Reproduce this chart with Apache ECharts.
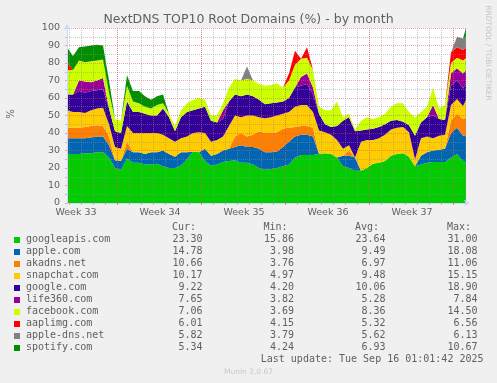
<!DOCTYPE html>
<html><head><meta charset="utf-8">
<script src="https://cdn.jsdelivr.net/npm/echarts@6/dist/echarts.min.js"></script>
<style>html,body{margin:0;padding:0;background:#f0f0f0;}#c{width:497px;height:383px;}</style>
</head><body><div id="c"></div>
<script>
// sample times: hours since Mon 11 Aug 2025 00:00 (week 33)
const hours = [67,79,91,103,115,127,139,151,163,175,187,199,211,223,235,247,259,271,283,295,307,319,331,343,355,367,379,391,403,415,427,439,451,463,475,487,499,511,523,535,547,559,571,583,595,607,619,631,643,655,667,679,691,703,715,727,739,751,763,775,787,799,811,823,835,847,859,865];

const googleapis = [28,28,28,28.5,28.5,29,29,26,20,19, 25.5,23,23,22,22,22.5,21,20,20,21.5, 25,29.5,29,24,21.5,22,23.5,24,24.5,23, 23,22,20,19,19.5,20,21,22,26,27.5, 27.5,27.5,28,28.5,28,26,21,20,18.5,18.5, 20,22.5,23,24,27,28,28.5,26.5,21,22, 23,23.5,23.5,23.5,26,28,24,23.3];
const appleCom = [9,9,9,8.5,9,9,9,7,4.5,5, 5.5,6,6,6,7,6.5,9,8,6.5,7.5, 4,0,0,7,5.5,6,6.5,7,7.5,10, 9,10,11,10,9.5,9.5,11,13,12,11.5, 11.5,10.5,0,0,0,0,6,7,7.5,0, 0,0,0,0,0,0,0,0,0,5, 6,6.5,7,7.5,14,15,14.5,14.78];
const akadns = [6,6,6,6.5,6.5,6.5,6,5,0,0, 4,0,0,0,0,0,0,0,0,0, 0,0,0,0,0,0,0,0,6,7, 6,7,10,11,11,11,10.5,8,5.5,5, 5,5,0,0,0,0,0,3,0,0, 0,0,0,0,0,0,0,0,0,0, 0,0,0,0,7,8,9.5,10.66];
const snapchat = [10,9,9,8,9,9.5,10.5,7,7.5,7, 9,11,11,12,11,11,9,9,8.5,8, 9,10.5,11.5,9,8,8,8,13,12,9, 12,11,8,8.5,9,9.5,8.5,9,11.5,12, 12,9,13.5,12,11,10,4,3,0,16.5, 16,13.5,14,15,15,15,15,14,4,10, 9,7,8,8,9,8.5,7.5,10.17];
const googleCom = [9,10,12,11.5,11,10.5,10.5,9,9,9, 14,12,12,11,10,10,15,12,6,12, 14,13,13.5,15,12,10,10,14,12,12, 12,11,10,8,8,7.5,7,8,11,11, 12,10,9.5,4.5,4.5,8,16,16,15,6.5, 6,6.5,6.5,6,5,4.5,3,4,13.5,9, 11,13,9.5,8.5,11,10.5,10,9.22];
const life360 = [0,0,6,6.5,5,5.5,6.5,0,0,0, 0,0,0,0,0,0,0,0,0,0, 0,0,0,0,0,0,5,0,0,0, 0,0,0,0,0,0,0,0,0,5, 6,4,0,0,0,0,0,0,0,0, 0,0,0,0,0,0,0,0,0,0, 0,6,0,0,7,7,8.5,7.65];
const facebook = [14,14,11.5,11,12,11.5,10.5,9,7,7, 9,6,5,4,4,6,3,2,3,4, 5,6,6,4,3,4,4,8,9,9, 9,9,9,10.5,10.5,11,8,10,13,10.5, 9,10,4,8,9.5,14,2,2,1,5.5, 7,5.5,5.5,6,8,9.5,10.5,7.5,10.5,6, 6,10,6,8.5,6,6,7.5,7.06];
const aaplimg = [4.5,0,0,0,0,0,0,0,0,0, 0,0,0,0,0,0,0,0,0,0, 0,0,0,0,0,0,0,0,0,0, 0,0,0,0,0,0,0,4,8,0, 6,0,0,0,0,0,0,0,0,0, 0,0,0,0,0,0,0,0,0,0, 0,0,0,0,6,6,6,6.01];
const appleDns = [0,0,0,0,0,0,0,0,0,0, 0,0,0,0,0,0,0,0,0,0, 0,0,0,0,0,0,0,0,0,0, 7,0,0,0,0,0,0,0,0,0, 0,0,0,0,0,0,0,0,0,0, 0,0,0,0,0,0,0,0,0,0, 0,0,0,0,0,6,6.5,5.82];
const spotify = [8.5,8,7.5,9,9,9,8,7,0,0, 6,6,7,6,5,5,5,0,0,0, 0,0,0,0,0,0,0,0,0,0, 0,0,0,0,0,0,0,0,0,0, 0,0,0,0,0,0,0,0,0,0, 0,0,0,0,0,0,0,0,0,0, 0,0,0,0,0,0,0,5.34];

const seriesNames = ['googleapis.com','apple.com','akadns.net','snapchat.com','google.com','life360.com','facebook.com','aaplimg.com','apple-dns.net','spotify.com'];
const seriesColors = ['#00cc00','#0066b3','#ff8000','#ffcc00','#330099','#990099','#ccff00','#ff0000','#808080','#008f00'];
const seriesValues = [googleapis, appleCom, akadns, snapchat, googleCom, life360, facebook, aaplimg, appleDns, spotify];

const curVals = ['23.30','14.78','10.66','10.17','9.22','7.65','7.06','6.01','5.82','5.34'];
const minVals = ['15.86','3.98','3.76','4.97','4.20','3.82','3.69','4.15','3.79','4.24'];
const avgVals = ['23.64','9.49','6.97','9.48','10.06','5.28','8.36','5.32','5.62','6.93'];
const maxVals = ['31.00','18.08','11.06','15.15','18.90','7.84','14.50','6.56','6.13','10.67'];

const weekLabelHours = [85,253,421,589,757];
const weekLabels = ['Week 33','Week 34','Week 35','Week 36','Week 37'];
const weekStartHours = [168,336,504,672,840];
const dayHours = [];
for (let h = 72; h <= 864; h += 24) dayHours.push(h);

const TXT = '#606060';
const GRIDC = 'rgba(143,143,143,0.5)';
const MGRIDC = 'rgba(222,79,79,0.5)';
const AXISC = '#cfd6f8';

const chart = echarts.init(document.getElementById('c'), null, {renderer:'canvas', width:497, height:383});

// data rows are [value, hour] so the value dimension is the stacked one
const series = seriesNames.map((n, k) => ({
  name: n, type: 'line', stack: 'all', symbol: 'none', showSymbol: false,
  data: hours.map((h, i) => [seriesValues[k][i], h]),
  encode: {x: 1, y: 0},
  lineStyle: {width: 0, opacity: 0},
  areaStyle: {color: seriesColors[k], opacity: 1},
  itemStyle: {color: seriesColors[k]},
  z: 1, silent: true
}));

const graphics = [];
graphics.push({type:'text', x:248.5, y:19.5, z:10, style:{text:'NextDNS TOP10 Root Domains (%) - by month', font:'12.5px "DejaVu Sans"', fill:TXT, align:'center', verticalAlign:'middle', textAlign:'center', textVerticalAlign:'middle'}});
graphics.push({type:'text', x:11, y:114, rotation:Math.PI/2, z:10, style:{text:'%', font:'10px "DejaVu Sans"', fill:TXT, align:'center', verticalAlign:'middle', textAlign:'center', textVerticalAlign:'middle'}});
graphics.push({type:'text', x:487.5, y:53, rotation:-Math.PI/2, z:10, style:{text:'RRDTOOL / TOBI OETIKER', font:'7.4px "DejaVu Sans"', fill:'#c4c4c4', align:'center', verticalAlign:'middle', textAlign:'center', textVerticalAlign:'middle'}});
const MONO = '10px "DejaVu Sans Mono"';
const headX = [172, 263.5, 355, 447];
const valX = [202.5, 294, 385.5, 477.5];
['Cur:','Min:','Avg:','Max:'].forEach((t, j) => graphics.push({type:'text', x:headX[j], y:227.5, z:10, style:{text:t, font:MONO, fill:TXT, align:'left', verticalAlign:'middle', textAlign:'left', textVerticalAlign:'middle'}}));
seriesNames.forEach((n, i) => {
  const y = 239.5 + 12 * i;
  graphics.push({type:'rect', shape:{x:14, y:y - 2.5, width:6, height:6}, z:10, style:{fill:seriesColors[i]}});
  graphics.push({type:'text', x:26, y:y, z:10, style:{text:n, font:MONO, fill:TXT, align:'left', verticalAlign:'middle', textAlign:'left', textVerticalAlign:'middle'}});
  [curVals, minVals, avgVals, maxVals].forEach((arr, j) => graphics.push({type:'text', x:valX[j], y:y, z:10, style:{text:arr[i], font:MONO, fill:TXT, align:'right', verticalAlign:'middle', textAlign:'right', textVerticalAlign:'middle'}}));
});
graphics.push({type:'text', x:483.5, y:359.5, z:10, style:{text:'Last update: Tue Sep 16 01:01:42 2025', font:MONO, fill:TXT, align:'right', verticalAlign:'middle', textAlign:'right', textVerticalAlign:'middle'}});
graphics.push({type:'text', x:248.5, y:372, z:10, style:{text:'Munin 2.0.67', font:'7.5px "DejaVu Sans"', fill:'#c8c8c8', align:'center', verticalAlign:'middle', textAlign:'center', textVerticalAlign:'middle'}});

const option = {
  backgroundColor: '#f0f0f0',
  animation: false,
  grid: {left:67, top:28, width:399, height:175, show:true, backgroundColor:'#ffffff', borderWidth:0},
  xAxis: [
    {type:'value', min:67, max:865, z:5,
     axisLine:{show:true, lineStyle:{color:AXISC, width:1}, symbol:['none','arrow'], symbolSize:[5,6], symbolOffset:[0,4]},
     axisTick:{show:true, customValues:dayHours, length:2, lineStyle:{color:GRIDC}},
     axisLabel:{show:true, customValues:weekLabelHours, formatter:(v) => weekLabels[weekLabelHours.indexOf(v)], color:TXT, fontFamily:'DejaVu Sans', fontSize:9.5, margin:5},
     splitLine:{show:true, lineStyle:{color:GRIDC, type:[1,1], width:1}}},
    {type:'value', min:67, max:865, z:6, position:'bottom',
     axisLine:{show:false},
     axisTick:{show:true, customValues:weekStartHours, length:2, lineStyle:{color:MGRIDC}},
     axisLabel:{show:false},
     splitLine:{show:true, lineStyle:{color:MGRIDC, type:[1,1], width:1}}}
  ],
  yAxis: {type:'value', min:0, max:100, interval:10, z:5,
    axisLine:{show:true, lineStyle:{color:AXISC, width:1}, symbol:['none','arrow'], symbolSize:[5,6], symbolOffset:[0,4]},
    axisTick:{show:true, length:2, lineStyle:{color:MGRIDC}},
    minorTick:{show:true, splitNumber:2, length:2, lineStyle:{color:GRIDC}},
    minorSplitLine:{show:true, lineStyle:{color:GRIDC, type:[1,1], width:1}},
    splitLine:{show:true, lineStyle:{color:MGRIDC, type:[1,1], width:1}},
    axisLabel:{color:TXT, fontFamily:'DejaVu Sans', fontSize:9.5, margin:7}},
  series: series,
  graphic: graphics
};
chart.setOption(option);
</script></body></html>
